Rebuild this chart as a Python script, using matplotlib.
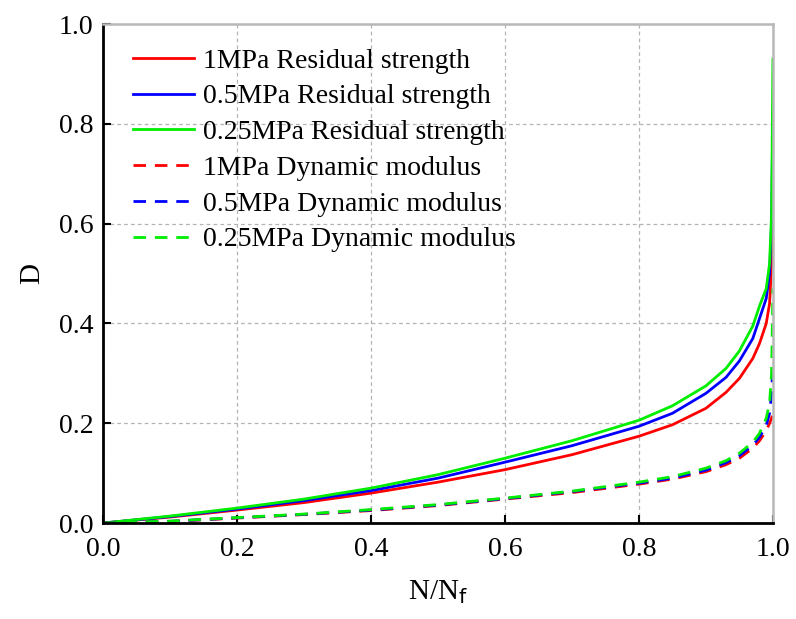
import matplotlib.pyplot as plt

plt.rcParams['font.family'] = ['Liberation Serif', 'DejaVu Serif']
plt.rcParams['mathtext.fontset'] = 'dejavusans'

# N/Nf sample points (dense near failure)
x = [0, 0.1, 0.2, 0.3, 0.4, 0.5, 0.6, 0.7, 0.8, 0.85, 0.9, 0.93, 0.95,
     0.97, 0.98, 0.99, 0.995, 0.998, 1.0]

# residual strength damage
rs_1 = [0, 0.012, 0.026, 0.041, 0.060, 0.082, 0.107, 0.137, 0.174, 0.197,
        0.230, 0.262, 0.290, 0.330, 0.360, 0.400, 0.440, 0.520, 0.720]
rs_05 = [0, 0.013, 0.028, 0.045, 0.065, 0.090, 0.122, 0.155, 0.194, 0.220,
         0.260, 0.292, 0.325, 0.370, 0.410, 0.450, 0.500, 0.600, 0.820]
rs_025 = [0, 0.014, 0.030, 0.048, 0.070, 0.097, 0.130, 0.165, 0.206, 0.235,
          0.275, 0.310, 0.345, 0.395, 0.435, 0.470, 0.520, 0.620, 0.930]

# dynamic modulus damage
dm_1 = [0, 0.003, 0.010, 0.017, 0.025, 0.035, 0.048, 0.061, 0.078, 0.088,
        0.103, 0.117, 0.130, 0.150, 0.165, 0.185, 0.200, 0.210, 0.220]
dm_05 = [0, 0.0035, 0.0105, 0.0175, 0.026, 0.036, 0.049, 0.063, 0.080, 0.090,
         0.106, 0.121, 0.135, 0.156, 0.172, 0.195, 0.220, 0.260, 0.320]
dm_025 = [0, 0.004, 0.011, 0.018, 0.027, 0.037, 0.050, 0.064, 0.082, 0.093,
          0.110, 0.125, 0.140, 0.162, 0.180, 0.210, 0.240, 0.300, 0.470]

series = [
    (rs_1, 'r', '-', '1MPa Residual strength'),
    (rs_05, 'b', '-', '0.5MPa Residual strength'),
    (rs_025, '#00ee00', '-', '0.25MPa Residual strength'),
    (dm_1, 'r', '--', '1MPa Dynamic modulus'),
    (dm_05, 'b', '--', '0.5MPa Dynamic modulus'),
    (dm_025, '#00ee00', '--', '0.25MPa Dynamic modulus'),
]

fig = plt.figure(figsize=(7.96, 6.19), dpi=100)
ax = fig.add_axes([0.1294, 0.155, 0.8416, 0.806])

for y, c, ls, lab in series:
    if ls == '--':
        ax.plot(x, y, color=c, lw=2.0, dashes=(4.5, 3.2), label=lab)
    else:
        ax.plot(x, y, color=c, lw=2.0, label=lab)

ax.set_xlim(0, 1)
ax.set_ylim(0, 1)
ax.set_xticks([0, 0.2, 0.4, 0.6, 0.8, 1.0])
ax.set_yticks([0, 0.2, 0.4, 0.6, 0.8, 1.0])
ax.set_xticklabels(['0.0', '0.2', '0.4', '0.6', '0.8', '1.0'])
ax.set_yticklabels(['0.0', '0.2', '0.4', '0.6', '0.8', '1.0'])
ax.tick_params(direction='in', length=6, width=1.5, labelsize=20,
               top=False, right=False)
ax.tick_params(axis='x', pad=10)
ax.tick_params(axis='y', pad=7)
ax.grid(True, ls=(0, (3, 2.5)), color='#b4b4b4', lw=0.9)

for s in ['left', 'bottom']:
    ax.spines[s].set_linewidth(2)
    ax.spines[s].set_color('black')
for s in ['top', 'right']:
    ax.spines[s].set_linewidth(1.8)
    ax.spines[s].set_color('#b8b8b8')

ax.set_xlabel(r'N/N$_\mathrm{f}$', fontsize=21, labelpad=12)
ax.set_ylabel('D', fontsize=21, labelpad=10)

ax.legend(loc='upper left', frameon=False, fontsize=20, handlelength=2.2,
          handletextpad=0.3, labelspacing=0.37, borderaxespad=0.2,
          bbox_to_anchor=(0.02, 0.985))

fig.savefig('out.png', dpi=100)
